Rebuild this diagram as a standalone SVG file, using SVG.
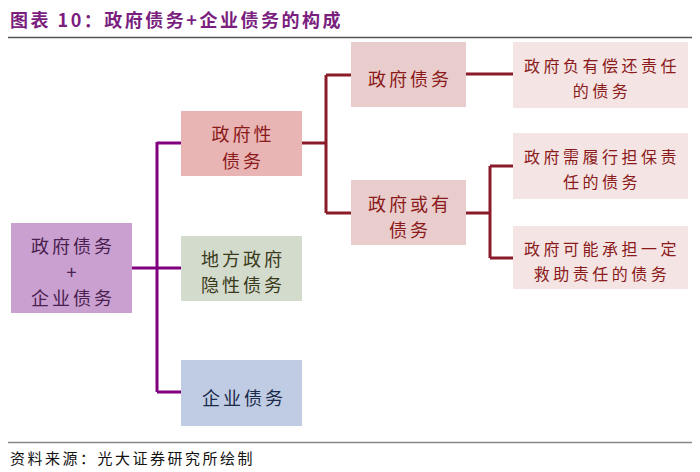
<svg xmlns="http://www.w3.org/2000/svg" width="700" height="472" viewBox="0 0 700 472">
<style>
text{font-family:"Noto Sans CJK SC","Noto Sans",sans-serif;text-anchor:middle;dominant-baseline:central}
.t{font-size:18px;font-weight:bold;fill:#7b1f7f;text-anchor:start;letter-spacing:2.5px}
.src{font-size:15px;fill:#111;text-anchor:start;letter-spacing:2.5px}
.mid{font-size:18px;letter-spacing:3px}
.sm{font-size:16px;letter-spacing:3.5px}
.red{fill:#8b1a1a}
.pl{stroke:#800080;stroke-width:3;fill:none}
.rl{stroke:#8b1a2a;stroke-width:3;fill:none}
</style>
<rect width="700" height="472" fill="#fff"/>
<text class="t" x="10" y="19">图表 10：政府债务+企业债务的构成</text>
<line x1="8" y1="37.5" x2="692" y2="37.5" stroke="#555" stroke-width="1.5"/>
<g id="connectors">
<path class="pl" d="M132 268H157M157 142V392M157 143H181M157 268H181M157 392H181"/>
<path class="rl" d="M302 143H326M326 75V213M326 75H351M326 213H351M466 74H513M466 213H490M490 166V258M490 166H513M490 258H513"/>
</g>
<g id="root">
<rect x="11" y="223" width="121" height="90" fill="#c9a0cf"/>
<text class="mid" x="73" y="245" fill="#4a2050">政府债务</text>
<text class="mid" x="73" y="271" fill="#4a2050">+</text>
<text class="mid" x="73" y="297" fill="#4a2050">企业债务</text>
</g>
<g id="govdebt">
<rect x="181" y="111" width="121" height="65" fill="#e8b4b4"/>
<text class="mid red" x="243" y="133">政府性</text>
<text class="mid red" x="243" y="160">债务</text>
</g>
<g id="implicit">
<rect x="181" y="236" width="121" height="65" fill="#d3dbcd"/>
<text class="mid" x="243" y="258" fill="#3a3a1a">地方政府</text>
<text class="mid" x="243" y="284" fill="#3a3a1a">隐性债务</text>
</g>
<g id="corp">
<rect x="181" y="360" width="121" height="66" fill="#bfcce3"/>
<text class="mid" x="244" y="397" fill="#1a2a4a">企业债务</text>
</g>
<g id="direct">
<rect x="351" y="42" width="115" height="65" fill="#e9cccc"/>
<text class="mid red" x="410" y="78">政府债务</text>
</g>
<g id="contingent">
<rect x="351" y="180" width="115" height="65" fill="#e9cccc"/>
<text class="mid red" x="410" y="203">政府或有</text>
<text class="mid red" x="410" y="229">债务</text>
</g>
<g id="repay">
<rect x="513" y="42" width="175" height="66" fill="#f4e4e4"/>
<text class="sm red" x="602" y="65">政府负有偿还责任</text>
<text class="sm red" x="602" y="90">的债务</text>
</g>
<g id="guarantee">
<rect x="513" y="133" width="175" height="66" fill="#f4e4e4"/>
<text class="sm red" x="602" y="156">政府需履行担保责</text>
<text class="sm red" x="602" y="181">任的债务</text>
</g>
<g id="rescue">
<rect x="513" y="226" width="175" height="63" fill="#f4e4e4"/>
<text class="sm red" x="602" y="248">政府可能承担一定</text>
<text class="sm red" x="602" y="273">救助责任的债务</text>
</g>
<line x1="8" y1="442.5" x2="692" y2="442.5" stroke="#888" stroke-width="1.5"/>
<text class="src" x="10" y="457">资料来源：光大证券研究所绘制</text>
</svg>
